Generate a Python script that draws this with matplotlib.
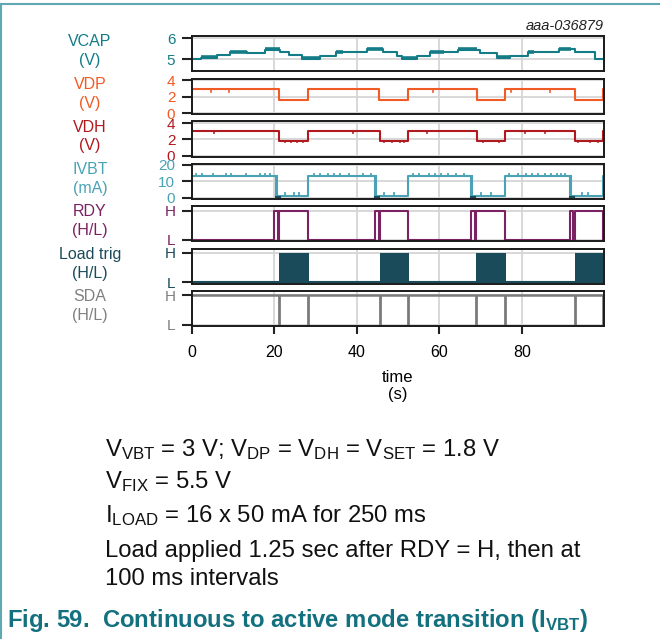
import matplotlib
matplotlib.use('Agg')
import matplotlib.pyplot as plt
from matplotlib.lines import Line2D
import numpy as np

plt.rcParams['font.family'] = ['Liberation Sans', 'DejaVu Sans']
plt.rcParams['mathtext.fontset'] = 'custom'
plt.rcParams['mathtext.rm'] = 'Liberation Sans'
plt.rcParams['mathtext.it'] = 'Liberation Sans:italic'
plt.rcParams['mathtext.bf'] = 'Liberation Sans:bold'

# ---------------- data ----------------
x_ticks = [0, 20, 40, 60, 80]
x_max = 99.8

vcap_t = [0, 2.3, 6.0, 9.2, 13.3, 17.7, 21.3, 23.5, 26.6, 31.0, 35.0, 42.5, 46.3,
          49.7, 50.9, 54.6, 57.8, 64.6, 69.9, 73.9, 77.1, 81.6, 88.9, 92.9, 97.7, 99.8]
vcap_v = [5.0, 5.08, 5.2, 5.33, 5.28, 5.45, 5.33, 5.2, 5.03, 5.16, 5.33, 5.48, 5.33,
          5.16, 5.03, 5.16, 5.33, 5.46, 5.3, 5.08, 5.16, 5.33, 5.48, 5.33, 5.03, 5.03]
vcap_noise_start = [2.3, 9.2, 17.7, 26.6, 35.0, 42.5, 50.9, 57.8, 64.6, 73.9, 81.6, 88.9]
vcap_noise_end = [6.0, 13.3, 21.3, 31.0, 36.7, 46.3, 54.6, 61.0, 69.0, 77.1, 83.0, 92.0]

vdp_t = [0, 21.2, 28.2, 45.4, 52.4, 69.0, 75.8, 92.9, 99.6, 99.8]
vdp_v = [2.87, 1.64, 2.87, 1.64, 2.87, 1.64, 2.87, 1.64, 2.87, 2.87]
vdp_glitch_t = [4.6, 9.0, 58.5, 77.3, 86.8]
vdp_glitch_v = [2.6, 2.6, 2.6, 2.6, 2.6]

vdh_t = [0, 21.2, 28.2, 45.6, 52.5, 69.0, 76.0, 92.9, 99.7, 99.8]
vdh_v = [3.0, 1.78, 3.0, 1.78, 3.0, 1.78, 3.0, 1.78, 3.0, 3.0]
vdh_glitch_t = [5.4, 39.1, 56.9, 80.7, 85.6, 22.5, 24.0, 25.5, 27.0, 46.5, 48.5,
                50.5, 51.5, 70.5, 74.5, 93.5, 96.5, 98.5]
vdh_glitch_v = [2.75, 2.75, 2.75, 2.75, 2.75, 1.62, 1.62, 1.62, 1.62, 1.62, 1.62,
                1.62, 1.62, 1.62, 1.62, 1.62, 1.62, 1.62]

ivbt_t = [0, 20.3, 28.2, 44.4, 52.5, 67.7, 75.8, 91.6, 99.6, 99.8]
ivbt_v = [13.0, 1.2, 13.0, 1.2, 13.0, 1.2, 13.0, 1.2, 13.0, 13.0]
ivbt_spike_t = [1.0, 2.5, 5.0, 8.2, 9.5, 13.0, 16.5, 17.8, 19.0, 29.5, 31.0, 33.0,
                34.5, 36.0, 38.0, 41.5, 43.5, 53.5, 55.0, 57.5, 59.0, 60.5, 62.0,
                64.0, 66.0, 77.0, 79.0, 81.0, 82.5, 84.0, 85.5, 87.0, 88.5, 89.5, 90.5]
ivbt_spike_v = [14.3] * len(ivbt_spike_t)
ivbt_low_spike_t = [22.5, 24.8, 26.0, 46.5, 49.0, 70.0, 72.5, 94.5, 96.0]
ivbt_low_spike_v = [2.5] * len(ivbt_low_spike_t)
ivbt_drop_t = [20.3, 44.4, 67.7, 91.6]

rdy_t = [0, 20.0, 20.9, 21.2, 28.2, 44.4, 45.3, 45.6, 52.5, 67.7, 68.6, 68.9,
         76.0, 91.6, 92.5, 92.8, 99.6, 99.8]
rdy_v = [0, 1, 0, 1, 0, 1, 0, 1, 0, 1, 0, 1, 0, 1, 0, 1, 0, 0]

load_on = [21.2, 45.5, 68.9, 92.8]
load_off = [28.3, 52.6, 76.1, 99.7]

sda_spike_t = [21.2, 28.2, 45.6, 52.5, 68.8, 75.9, 92.8, 99.6]

panel_labels = ['VCAP\n(V)', 'VDP\n(V)', 'VDH\n(V)', 'IVBT\n(mA)', 'RDY\n(H/L)',
                'Load trig\n(H/L)', 'SDA\n(H/L)']
panel_yticks = [[5, 6], [0, 2, 4], [0, 2, 4], [0, 10, 20], [0, 1], [0, 1], [0, 1]]
panel_yticklabels = [['5', '6'], ['0', '2', '4'], ['0', '2', '4'], ['0', '10', '20'],
                     ['L', 'H'], ['L', 'H'], ['L', 'H']]

# ---------------- styles / layout ----------------
colors = ['#137c87', '#f05a24', '#b0191e', '#4aa3b4', '#7a2262', '#1a4b5b', '#7a7a7a']
label_colors = ['#137c87', '#f05a24', '#b0191e', '#4aa3b4', '#7a2262', '#1a4b5b', '#808080']
ylims = [(4.44, 6.11), (-0.08, 4.17), (-0.12, 4.22), (-1.0, 20.6), (-0.055, 1.16),
         (-0.057, 1.135), (-0.045, 1.155)]

W, H = 660, 639
fig = plt.figure(figsize=(W / 100, H / 100), dpi=100)
tops = [36, 78.7, 121.3, 164, 206, 248.7, 290.7]
ph = 35.2
left_px, right_px = 192, 603.5

axes = []
for i, top in enumerate(tops):
    ax = fig.add_axes([left_px / W, 1 - (top + ph) / H, (right_px - left_px) / W, ph / H])
    ax.set_xlim(0, x_max)
    ax.set_ylim(*ylims[i])
    ax.set_xticks(x_ticks)
    ax.set_yticks(panel_yticks[i])
    ax.set_yticklabels(panel_yticklabels[i])
    ax.grid(True, color='#d6d6d6', lw=1.3)
    ax.set_axisbelow(True)
    for s in ax.spines.values():
        s.set_linewidth(1.4)
        s.set_color('#1a1a1a')
    ax.tick_params(axis='y', direction='out', length=7, width=1.5, color='#222222',
                   labelsize=11, labelcolor=label_colors[i], pad=5)
    ax.tick_params(axis='x', bottom=False, labelbottom=False)
    cy = top + ph / 2 - 2.5
    fig.text(90 / W, 1 - cy / H, panel_labels[i], ha='center', va='center',
             color=label_colors[i], fontsize=11.5, linespacing=1.3)
    axes.append(ax)

# VCAP
ax = axes[0]
ax.plot(vcap_t, vcap_v, drawstyle='steps-post', color=colors[0], lw=1.5)
for s, e in zip(vcap_noise_start, vcap_noise_end):
    lvl = vcap_v[np.searchsorted(vcap_t, s, side='right') - 1]
    ax.plot([s, e], [lvl + 0.03, lvl + 0.03], color=colors[0], lw=2.6, solid_capstyle='butt')

# VDP
ax = axes[1]
ax.plot(vdp_t, vdp_v, drawstyle='steps-post', color=colors[1], lw=1.5)
for t, v in zip(vdp_glitch_t, vdp_glitch_v):
    lvl = vdp_v[np.searchsorted(vdp_t, t, side='right') - 1]
    ax.plot([t, t], [lvl, v], color=colors[1], lw=1.2)

# VDH
ax = axes[2]
ax.plot(vdh_t, vdh_v, drawstyle='steps-post', color=colors[2], lw=1.5)
for t, v in zip(vdh_glitch_t, vdh_glitch_v):
    lvl = vdh_v[np.searchsorted(vdh_t, t, side='right') - 1]
    ax.plot([t, t], [lvl, v], color=colors[2], lw=1.2)

# IVBT
ax = axes[3]
ax.plot(ivbt_t, ivbt_v, drawstyle='steps-post', color=colors[3], lw=1.5)
for t, v in zip(ivbt_spike_t, ivbt_spike_v):
    ax.plot([t, t], [13.0, v], color=colors[3], lw=1.3)
for t, v in zip(ivbt_low_spike_t, ivbt_low_spike_v):
    ax.plot([t, t], [1.2, v], color=colors[3], lw=1.3)
for t in ivbt_drop_t:
    ax.plot([t + 0.25, t + 0.25], [13.0, 0], color=colors[3], lw=1.5)
    ax.plot([t, t + 1.0], [0.1, 0.1], color='#1a4b5b', lw=1.5)

# RDY
ax = axes[4]
ax.plot(rdy_t, rdy_v, drawstyle='steps-post', color=colors[4], lw=1.5)

# Load trig
ax = axes[5]
ax.plot([0, x_max], [0, 0], color=colors[5], lw=1.5)
for s, e in zip(load_on, load_off):
    ax.fill_between([s, e], [0, 0], [1, 1], color=colors[5], lw=0)

# SDA
ax = axes[6]
ax.plot([0, x_max], [1, 1], color=colors[6], lw=1.8)
ax.vlines(sda_spike_t, 0, 1, color=colors[6], lw=2)

# bottom x axis
axb = axes[-1]
axb.tick_params(axis='x', bottom=True, labelbottom=True, direction='out', length=6,
                width=1.5, color='#222222', labelsize=11.5, pad=8)
axb.set_xticklabels([str(v) for v in x_ticks])
fig.text(398 / W, 1 - 386 / H, 'time\n(s)', ha='center', va='center', fontsize=12,
         linespacing=1.1)

# id tag
fig.text(604 / W, 1 - 26 / H, 'aaa-036879', ha='right', va='center', fontsize=10.5,
         style='italic', color='#222222')

# caption lines
lines = [r"V$_{\mathrm{VBT}}$ = 3 V; V$_{\mathrm{DP}}$ = V$_{\mathrm{DH}}$ = V$_{\mathrm{SET}}$ = 1.8 V",
         r"V$_{\mathrm{FIX}}$ = 5.5 V",
         r"I$_{\mathrm{LOAD}}$ = 16 x 50 mA for 250 ms",
         "Load applied 1.25 sec after RDY = H, then at",
         "100 ms intervals"]
baselines = [456, 488.5, 522, 556.5, 585]
for txt, b in zip(lines, baselines):
    fig.text(105 / W, 1 - b / H, txt, ha='left', va='baseline', fontsize=17.2, color='#111111')

fig.text(6.7 / W, 1 - 627 / H,
         r"Fig. 59.  Continuous to active mode transition (I$_{\mathbf{VBT}}$)",
         ha='left', va='baseline', fontsize=17.2, fontweight='bold', color='#13717f')

# frame lines
fig.add_artist(Line2D([0, 1], [1 - 3.5 / H, 1 - 3.5 / H], color='#5fa8b2', lw=1.5))
fig.add_artist(Line2D([1 / W, 1 / W], [0, 1 - 3.5 / H], color='#5fa8b2', lw=1.5))

fig.savefig('out.png', dpi=100)
